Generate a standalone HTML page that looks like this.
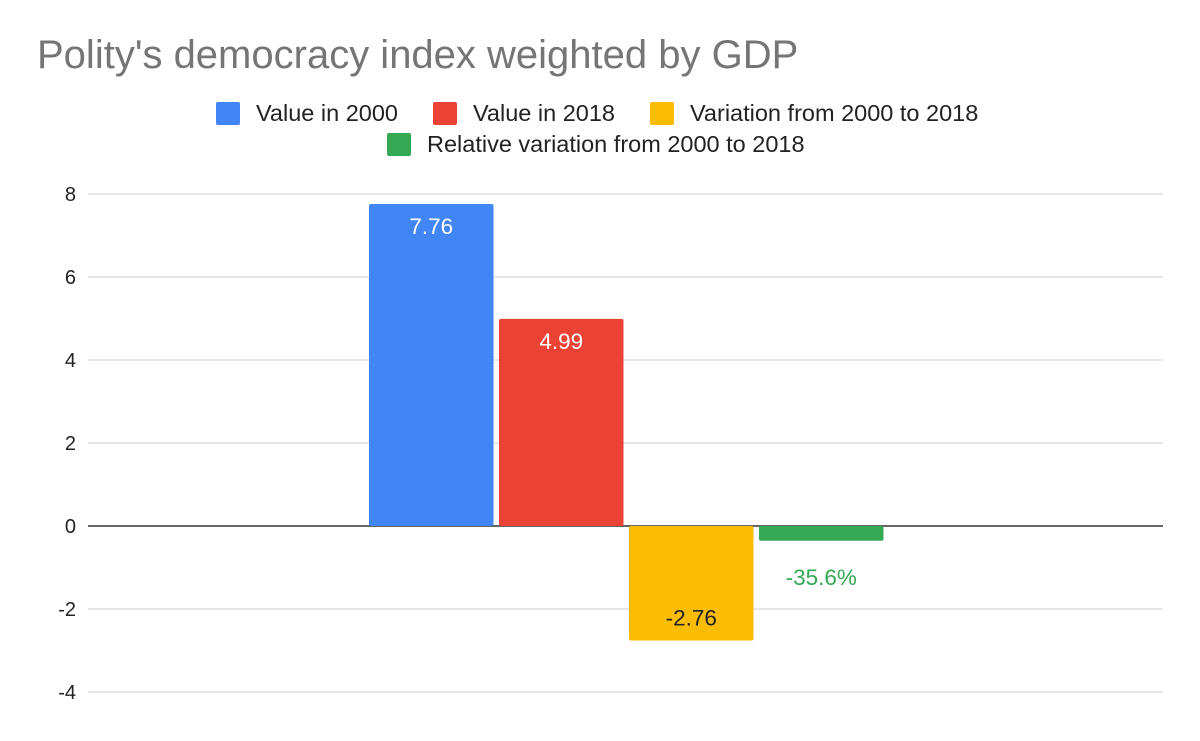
<!DOCTYPE html>
<html><head><meta charset="utf-8"><style>
html,body{margin:0;padding:0;background:#fff;}
svg{display:block;font-family:"Liberation Sans",Arial,sans-serif;}
</style></head><body>
<svg id="chart" width="1200" height="741" viewBox="0 0 1200 741">
<rect width="1200" height="741" fill="#fff"/>
<text x="37" y="68" font-size="40" fill="#757575">Polity's democracy index weighted by GDP</text>
<g>
<g><rect x="216" y="102" width="24" height="23" rx="2" fill="#4285f4"/><text x="256" y="121" font-size="23.5" fill="#222">Value in 2000</text></g>
<g><rect x="433" y="102" width="24" height="23" rx="2" fill="#ea4335"/><text x="473" y="121" font-size="23.5" fill="#222">Value in 2018</text></g>
<g><rect x="650" y="102" width="24" height="23" rx="2" fill="#fbbc04"/><text x="690" y="121" font-size="23.5" fill="#222">Variation from 2000 to 2018</text></g>
<g><rect x="387" y="133" width="24" height="23" rx="2" fill="#34a853"/><text x="427" y="152" font-size="23.5" fill="#222">Relative variation from 2000 to 2018</text></g>
</g>
<g id="grid"></g>
<g id="bars"></g>
<g id="labels"></g>
</svg>
<script>
const seriesNames = ["Value in 2000","Value in 2018","Variation from 2000 to 2018","Relative variation from 2000 to 2018"];
const seriesValues = [7.76, 4.99, -2.76, -0.356];
const valueLabels = ["7.76","4.99","-2.76","-35.6%"];
const yTicks = [8,6,4,2,0,-2,-4];
const colors = ["#4285f4","#ea4335","#fbbc04","#34a853"];
const NS="http://www.w3.org/2000/svg";
const plotL=88, plotR=1163, y0=526, pxPerUnit=41.5;
function y(v){return y0 - v*pxPerUnit;}
const grid=document.getElementById('grid');
yTicks.forEach(t=>{
  const l=document.createElementNS(NS,'line');
  l.setAttribute('x1',plotL);l.setAttribute('x2',plotR);
  l.setAttribute('y1',y(t));l.setAttribute('y2',y(t));
  l.setAttribute('stroke',t===0?'#333':'#ccc');l.setAttribute('stroke-width',t===0?1.5:1);
  
  
  grid.appendChild(l);
  const tx=document.createElementNS(NS,'text');
  tx.setAttribute('x',76);tx.setAttribute('y',y(t)+7);tx.setAttribute('text-anchor','end');
  tx.setAttribute('font-size','20');tx.setAttribute('fill','#222');
  tx.textContent=t;
  
  
  grid.appendChild(tx);
});
const bars=document.getElementById('bars'), labels=document.getElementById('labels');
const groupStart=369, barW=124.5, step=130;
seriesValues.forEach((v,i)=>{
  const x=groupStart+i*step;
  const top=Math.min(y(v),y0), h=Math.abs(y(v)-y0);
  const r=document.createElementNS(NS,'rect');
  r.setAttribute('x',x);r.setAttribute('y',top);r.setAttribute('width',barW);r.setAttribute('height',h);
  r.setAttribute('rx',2);r.setAttribute('fill',colors[i]);
  
  
  bars.appendChild(r);
  const t=document.createElementNS(NS,'text');
  t.setAttribute('x',x+barW/2);t.setAttribute('text-anchor','middle');t.setAttribute('font-size','22.5');
  let ty, fill;
  if(h>40){ if(v>=0){ty=y(v)+30;fill='#fff';} else {ty=y(v)-15;fill='#222';} }
  else { ty=(v>=0?y(v)-10:y(v)+44); fill=colors[i]; }
  t.setAttribute('y',ty);t.setAttribute('fill',fill);
  t.textContent=valueLabels[i];
  
  
  labels.appendChild(t);
});
</script>
</body></html>
